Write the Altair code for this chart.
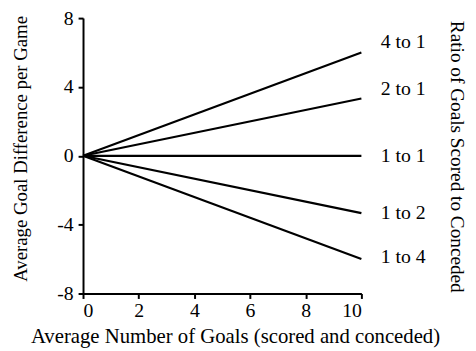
import altair as alt
import pandas as pd

ratios = ["4 to 1", "2 to 1", "1 to 1", "1 to 2", "1 to 4"]
start_x = [0, 0, 0, 0, 0]
start_y = [0, 0, 0, 0, 0]
end_x = [10, 10, 10, 10, 10]
end_y = [6.0, 3.33, 0.0, -3.33, -6.0]
label_x = [11.5, 11.5, 11.5, 11.5, 11.5]
label_y = [6.6, 3.85, 0.0, -3.3, -5.9]

x_ticks = [0, 2, 4, 6, 8, 10]
y_ticks = [-8, -4, 0, 4, 8]

rows = []
for r, sx, sy, ex, ey in zip(ratios, start_x, start_y, end_x, end_y):
    rows.append({"ratio": r, "x": sx, "y": sy})
    rows.append({"ratio": r, "x": ex, "y": ey})
lines_df = pd.DataFrame(rows)
labels_df = pd.DataFrame({"ratio": ratios, "x": label_x, "y": label_y})

FONT = "Liberation Serif"
FS = 20

xscale = alt.Scale(domain=[0, 10], nice=False, zero=False)
yscale = alt.Scale(domain=[-8, 8], nice=False, zero=False)

lines = alt.Chart(lines_df).mark_line(color="black", strokeWidth=2.2).encode(
    x=alt.X("x:Q", scale=xscale,
            axis=alt.Axis(title="Average Number of Goals (scored and conceded)",
                          values=x_ticks, titlePadding=6, labelPadding=2,
                          titleFontSize=21, titleX=154)),
    y=alt.Y("y:Q", scale=yscale,
            axis=alt.Axis(title="Average Goal Difference per Game",
                          values=y_ticks, titlePadding=27, labelPadding=5,
                          titleFontSize=19, titleY=132,
                          labelExpr="datum.value < 0 ? '-' + abs(datum.value) : '' + datum.value")),
    detail="ratio:N",
)

labels = alt.Chart(labels_df).mark_text(
    font=FONT, fontSize=FS, color="black", align="center", baseline="middle", clip=False
).encode(
    x=alt.X("x:Q", scale=xscale),
    y=alt.Y("y:Q", scale=yscale,
            axis=alt.Axis(orient="right", title="Ratio of Goals Scored to Conceded",
                          labels=False, ticks=False, domain=False, grid=False,
                          titlePadding=86, titleAngle=90, titleFontSize=19.5,
                          titleY=140)),
    text="ratio:N",
)

chart = alt.layer(lines, labels).resolve_axis(y="independent").properties(
    width=282, height=279,
    autosize=alt.AutoSizeParams(type="none"),
    padding={"left": 76, "top": 8, "right": 108, "bottom": 56},
).configure_view(stroke=None).configure_axis(
    grid=False,
    domainColor="black", domainWidth=2,
    tickColor="black", tickWidth=2, tickSize=5,
    labelFont=FONT, labelFontSize=FS, labelColor="black",
    titleFont=FONT, titleFontSize=FS, titleFontWeight="normal", titleColor="black",
)

chart.save("out.html", embed_options={"renderer": "svg", "actions": False})
